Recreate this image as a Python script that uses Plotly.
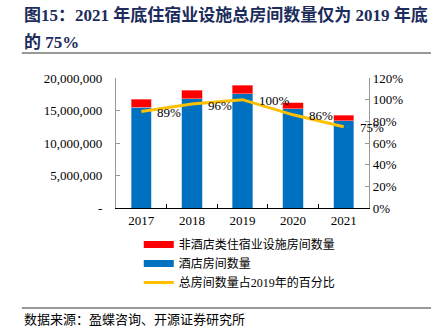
import plotly.graph_objects as go

years = ["2017", "2018", "2019", "2020", "2021"]
hotel_rooms = [15500000, 16800000, 17600000, 15300000, 13400000]
non_hotel_rooms = [1270000, 1350000, 1300000, 900000, 850000]
pct_of_2019 = [0.89, 0.96, 1.00, 0.86, 0.75]
pct_labels = ["89%", "96%", "100%", "86%", "75%"]
left_tickvals = [0, 5000000, 10000000, 15000000, 20000000]
left_ticktext = ["-", "5,000,000", "10,000,000", "15,000,000", "20,000,000"]

name_red = "非酒店类住宿业设施房间数量"
name_blue = "酒店房间数量"
name_line = "总房间数量占2019年的百分比"

RED = "#FF0000"
BLUE = "#0070C0"
GOLD = "#FFC000"
SERIF = "Liberation Serif, Times New Roman, serif"
CJK = "Liberation Serif, Noto Sans CJK SC, serif"

fig = go.Figure()
fig.add_trace(go.Bar(x=years, y=hotel_rooms, marker=dict(color=BLUE, line=dict(color="#9DC3E6", width=0.6)),
                     showlegend=False, name=name_blue))
fig.add_trace(go.Bar(x=years, y=non_hotel_rooms, marker=dict(color=RED, line=dict(color="#FF9999", width=0.6)),
                     showlegend=False, name=name_red))
fig.add_trace(go.Scatter(x=years, y=pct_of_2019, yaxis="y2", mode="lines",
                         line=dict(color=GOLD, width=3), showlegend=False))
# legend proxies
fig.add_trace(go.Scatter(x=[years[0]], y=[None], mode="lines", line=dict(color=RED, width=7), name=name_red))
fig.add_trace(go.Scatter(x=[years[0]], y=[None], mode="lines", line=dict(color=BLUE, width=7), name=name_blue))
fig.add_trace(go.Scatter(x=[years[0]], y=[None], mode="lines", line=dict(color=GOLD, width=3), name=name_line))

annotations = []
for i, (y, t) in enumerate(zip(pct_of_2019, pct_labels)):
    annotations.append(dict(x=i, y=y, yref="y2", xref="x", text=t, showarrow=False,
                            xanchor="left", yanchor="middle", xshift=14, yshift=-1,
                            font=dict(family=SERIF, size=13, color="#000000")))

TITLE_C = "#1C2C5B"
annotations.append(dict(xref="paper", yref="paper", x=-0.372, y=1.0, xanchor="left", yanchor="middle",
                        yshift=63, text="<b>图15：2021 年底住宿业设施总房间数量仅为 2019 年底</b>", showarrow=False,
                        font=dict(family=CJK, size=17, color=TITLE_C)))
annotations.append(dict(xref="paper", yref="paper", x=-0.372, y=1.0, xanchor="left", yanchor="middle",
                        yshift=36, text="<b>的 75%</b>", showarrow=False,
                        font=dict(family=CJK, size=17, color=TITLE_C)))
annotations.append(dict(xref="paper", yref="paper", x=-0.372, y=0.0, xanchor="left", yanchor="middle",
                        yshift=-111, text="数据来源：盈蝶咨询、开源证券研究所", showarrow=False,
                        font=dict(family=CJK, size=13, color="#000000")))

shapes = [
    dict(type="line", xref="paper", yref="paper", x0=-0.372, x1=1.245, y0=1 + 25 / 130, y1=1 + 25 / 130,
         line=dict(color="#333333", width=1.2)),
    dict(type="line", xref="paper", yref="paper", x0=-0.372, x1=1.245, y0=-100 / 130, y1=-100 / 130,
         line=dict(color="#333333", width=1.2)),
]

fig.update_layout(
    width=438, height=332,
    margin=dict(l=116, r=69, t=78, b=124, pad=0),
    barmode="stack", bargap=0.6,
    plot_bgcolor="white", paper_bgcolor="white",
    font=dict(family=SERIF, size=13, color="#000000"),
    xaxis=dict(type="category", categoryorder="array", categoryarray=years, range=[-0.5, len(years) - 0.5],
               showline=True, linecolor="#000000", linewidth=1.2, ticks="inside", tickson="boundaries",
               ticklen=4, tickcolor="#000000", tickfont=dict(family=SERIF, size=13), showgrid=False),
    yaxis=dict(range=[0, 20000000], tickvals=left_tickvals, ticktext=left_ticktext, showline=True,
               linecolor="#999999", linewidth=1.2, ticks="inside", ticklen=4, tickcolor="#999999",
               showgrid=False, zeroline=False, tickfont=dict(family=SERIF, size=13), ticklabelstandoff=10),
    yaxis2=dict(range=[0, 1.2], dtick=0.2, tickformat=".0%", overlaying="y", side="right", showline=True,
                linecolor="#999999", linewidth=1.2, ticks="inside", ticklen=4, tickcolor="#999999",
                showgrid=False, zeroline=False, tickfont=dict(family=SERIF, size=13)),
    legend=dict(x=0.09, y=-0.17, xanchor="left", yanchor="top", traceorder="normal",
                font=dict(family=CJK, size=12), itemwidth=30, tracegroupgap=0, bgcolor="rgba(0,0,0,0)"),
    annotations=annotations,
    shapes=shapes,
)

fig.write_html("out.html")
